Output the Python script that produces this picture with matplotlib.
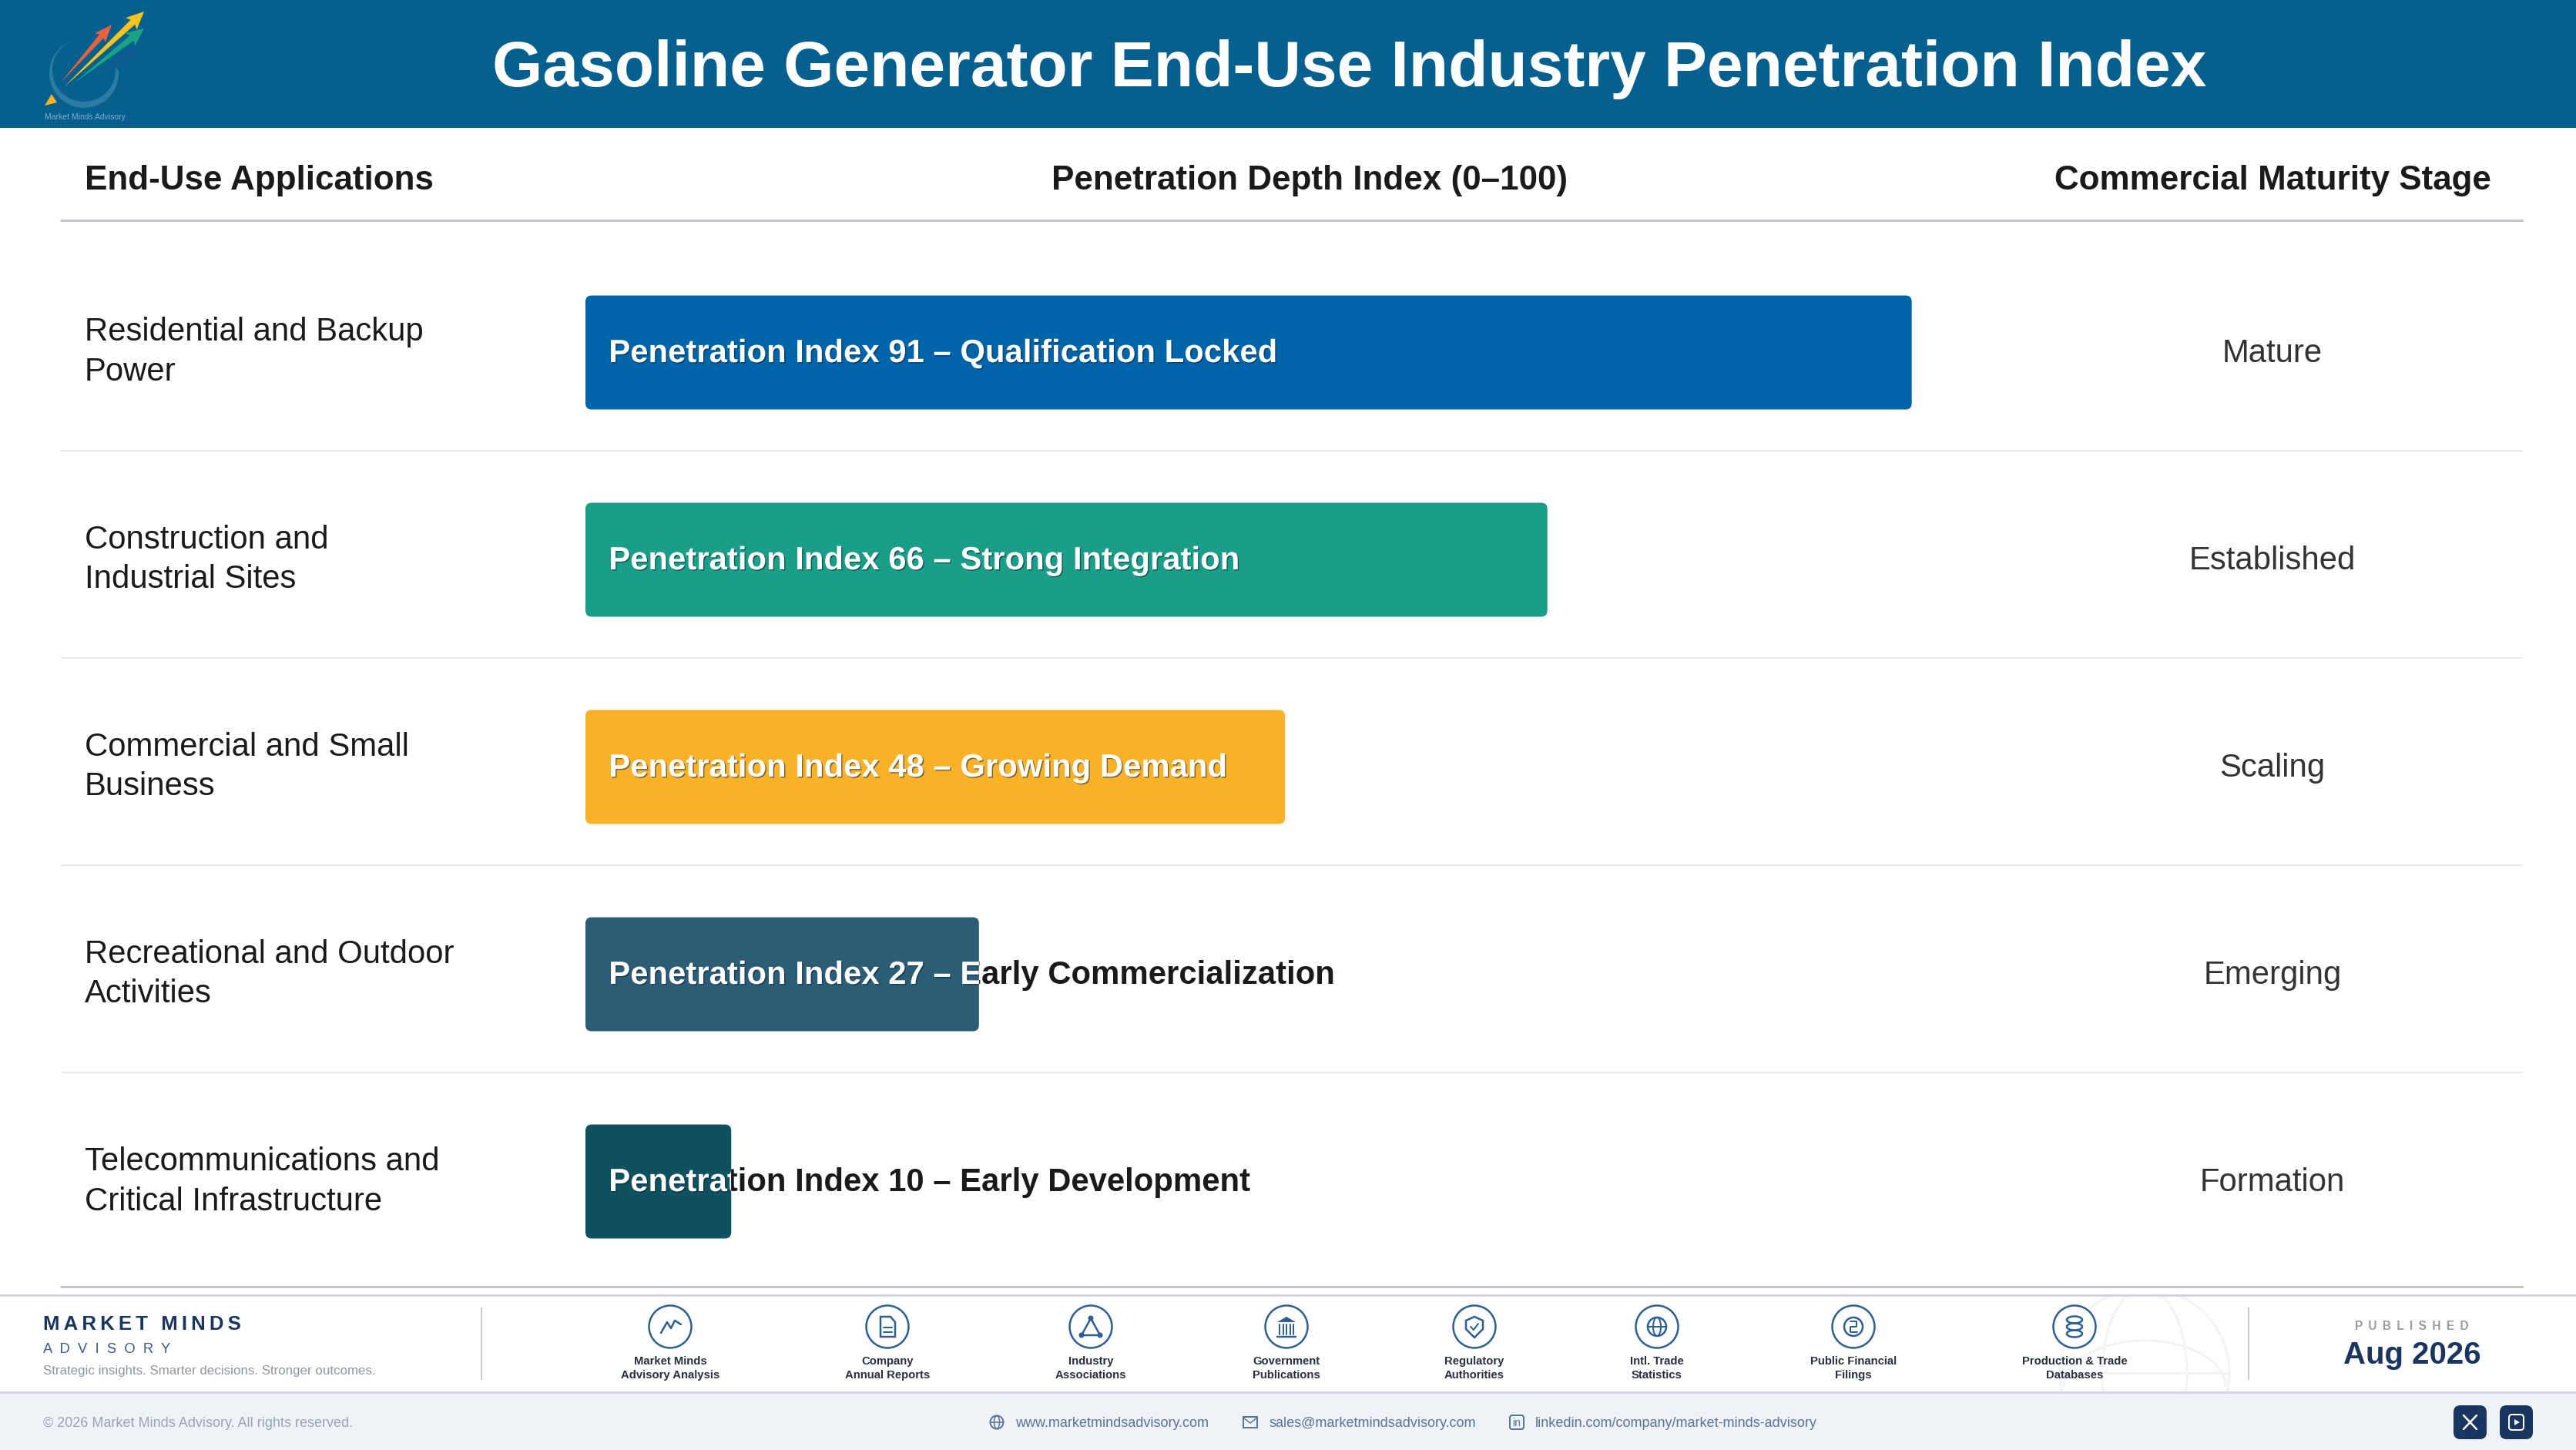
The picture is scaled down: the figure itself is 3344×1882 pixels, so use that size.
import numpy as np
import matplotlib
matplotlib.use("Agg")
import matplotlib.pyplot as plt
import matplotlib.patheffects as pe
from matplotlib.patches import Circle, Ellipse, Arc, Polygon, Rectangle, FancyBboxPatch
from matplotlib.transforms import Bbox, TransformedBbox

plt.rcParams['font.family'] = ['Liberation Sans', 'DejaVu Sans']

# chart values
title = "Gasoline Generator End-Use Industry Penetration Index"
col_heads = ["End-Use Applications", "Penetration Depth Index (0\u2013100)", "Commercial Maturity Stage"]
applications = [
    "Residential and Backup\nPower",
    "Construction and\nIndustrial Sites",
    "Commercial and Small\nBusiness",
    "Recreational and Outdoor\nActivities",
    "Telecommunications and\nCritical Infrastructure",
]
index_values = [91, 66, 48, 27, 10]
index_notes = ["Qualification Locked", "Strong Integration", "Growing Demand",
               "Early Commercialization", "Early Development"]
stages = ["Mature", "Established", "Scaling", "Emerging", "Formation"]
bar_colors = ["#0064A9", "#1B9E87", "#F9B128", "#2C5D75", "#10515F"]

source_names = ["Market Minds\nAdvisory Analysis", "Company\nAnnual Reports", "Industry\nAssociations",
                "Government\nPublications", "Regulatory\nAuthorities", "Intl. Trade\nStatistics",
                "Public Financial\nFilings", "Production & Trade\nDatabases"]
source_x = [870, 1152, 1416, 1670, 1914, 2151, 2406, 2693]

NAVY = "#1A3560"
ICON = "#2D5F94"
THIN = "\u2009"

fig = plt.figure(figsize=(33.44, 18.82), dpi=100, facecolor="white")

# whole page axes in pixels, for the furniture
page = fig.add_axes([0, 0, 1, 1])
page.set_xlim(0, 3344)
page.set_ylim(1882, 0)
page.axis("off")


def px(w):
    return w * 0.72


def line(xs, ys, color=ICON, w=2.5, z=5, **kw):
    page.plot(xs, ys, color=color, lw=px(w), zorder=z, solid_capstyle="round", **kw)


def arrow(x0, y0, x1, y1, color, wide=7, head=20, alpha=1.0):
    # thin tail growing to a barbed head
    d = np.array([x1 - x0, y1 - y0], dtype=float)
    n = np.hypot(*d)
    d = d / n
    p = np.array([-d[1], d[0]])
    a = np.array([x0, y0])
    pts = [a,
           a + d * (n - head) + p * wide * 0.6,
           a + d * (n - head - 3) + p * wide * 1.5,
           a + d * n,
           a + d * (n - head - 3) - p * wide * 1.5,
           a + d * (n - head) - p * wide * 0.6]
    page.add_patch(Polygon(pts, closed=True, fc=color, ec="none", alpha=alpha, zorder=4))


# header band and logo
page.add_patch(Rectangle((0, 0), 3344, 166, fc="#05608F", ec="none", zorder=1))
# ring is thin at the top, heavy at the bottom
ang = np.radians(np.linspace(-5, 265, 80))
outer = np.c_[109 + 45 * np.cos(ang), 95 + 45 * np.sin(ang)]
inner = np.c_[109 + 41 * np.cos(ang), 91 + 41 * np.sin(ang)][::-1]
page.add_patch(Polygon(np.r_[outer, inner], closed=True, fc="#2B7BA2", ec="none", zorder=3))
arrow(112, 103, 181, 65, "#125C92", wide=6)
arrow(79, 107, 145, 32, "#E8623F", wide=6)
arrow(96, 108, 187, 37, "#18A383", wide=7)
arrow(83, 113, 187, 15, "#F6C51F", wide=7)
page.add_patch(Polygon([(58, 137), (67, 122), (74, 133)], closed=True, fc="#F9B129", ec="none", zorder=4))
page.text(110, 155, "Market Minds Advisory", color="#86AEC6", fontsize=7.5, ha="center", va="baseline", zorder=4)
page.text(1752, 112, title, color="white", fontsize=60.4, fontweight="bold", ha="center", va="baseline", zorder=4)

# column heads
page.text(110, 246, col_heads[0], color="#1A1A1A", fontsize=31.7, fontweight="bold", va="baseline")
page.text(1700, 246, col_heads[1], color="#1A1A1A", fontsize=31.7, fontweight="bold", ha="center", va="baseline")
page.text(2950, 246, col_heads[2], color="#1A1A1A", fontsize=31.7, fontweight="bold", ha="center", va="baseline")
page.plot([80, 3274], [286, 286], color="#C3C4CC", lw=px(3))
page.plot([80, 3274], [1670, 1670], color="#C3C4CC", lw=px(3))
for y in [585, 854, 1123, 1392]:
    page.plot([80, 3274], [y, y], color="#E9E9E9", lw=px(2))

# bars, 0-100 scale across the track, one unit per row
bars = fig.add_axes([760 / 3344, 1 - 1668 / 1882, 1892 / 3344, 1345 / 1882])
bars.set_xlim(0, 100)
bars.set_ylim(4.5, -0.5)
bars.axis("off")
bars.patch.set_alpha(0)

shadow = [pe.SimplePatchShadow(offset=(1, -1), shadow_rgbFace="#06203A", alpha=0.55), pe.Normal()]

for i, val in enumerate(index_values):
    label = f"Penetration Index {val} \u2013 {index_notes[i]}"
    patch = FancyBboxPatch((0, i - 0.275), val, 0.55, boxstyle="round,pad=0,rounding_size=0.42",
                           mutation_aspect=0.0708, fc=bar_colors[i], ec="none", zorder=3)
    bars.add_patch(patch)
    # label runs past the short bars: dark under the bar, white cut off at the bar end
    if val < 40:
        bars.text(1.6, i - 0.011, label, color="#1A1A1A", fontsize=30.15, fontweight="bold", va="center_baseline", zorder=2)
    white = bars.text(1.6, i - 0.011, label, color="white", fontsize=30.15, fontweight="bold", va="center_baseline", zorder=4,
                      path_effects=shadow)
    white.set_clip_box(TransformedBbox(Bbox([[0, i - 0.275], [val, i + 0.275]]), bars.transData))
    white.set_clip_on(True)

    page.text(110, 457 + i * 269.25, applications[i], color="#1A1A1A", fontsize=30.2, va="center", linespacing=1.36)
    page.text(2950, 454 + i * 269.25, stages[i], color="#333333", fontsize=30.2, ha="center", va="center_baseline")

# footer
page.add_patch(Rectangle((0, 1807), 3344, 75, fc="#EFF3F8", ec="none", zorder=1))
page.plot([0, 3344], [1681, 1681], color="#D3D6E2", lw=px(3), zorder=2)
page.plot([0, 3344], [1807, 1807], color="#D3D6E2", lw=px(3), zorder=2)
page.plot([625, 625], [1698, 1790], color="#C9CDD3", lw=px(2))
page.plot([2919, 2919], [1698, 1790], color="#C9CDD3", lw=px(2))

# faint globe behind the last source
band = Rectangle((2600, 1681), 400, 126, transform=page.transData)
globe = [Circle((2784, 1782), 110, fc="none", ec="#F2F3F6", lw=px(3)),
         Ellipse((2784, 1782), 110, 220, fc="none", ec="#F2F3F6", lw=px(3)),
         Arc((2784, 1800), 210, 120, theta1=180, theta2=360, ec="#F2F3F6", lw=px(3))]
for g in globe:
    page.add_patch(g)
    g.set_clip_path(band)
page.plot([2674, 2893], [1782, 1782], color="#F2F3F6", lw=px(3))

page.text(56, 1726, f"{THIN}".join("MARKET MINDS"), color=NAVY, fontsize=18.5, fontweight="bold", va="baseline")
page.text(56, 1756, "  ".join("ADVISORY"), color="#3A5A8A", fontsize=13.2, va="baseline")
page.text(56, 1784, "Strategic insights. Smarter decisions. Stronger outcomes.", color="#9096A0", fontsize=12.2, va="baseline")
page.text(3131, 1726, (" " + THIN).join("PUBLISHED"), color="#9A9CA3", fontsize=11.2, fontweight="bold", ha="center", va="baseline")
page.text(3131, 1770, "Aug 2026", color=NAVY, fontsize=28.9, fontweight="bold", ha="center", va="baseline")


def source_icon(i, x, y):
    if i == 0:  # trend
        line([x - 12, x - 4, x + 1, x + 6, x + 14], [y + 8, y - 6, y + 2, y - 8, y - 3])
    elif i == 1:  # document
        page.add_patch(Polygon([(x - 9, y - 13), (x + 4, y - 13), (x + 10, y - 6), (x + 10, y + 13), (x - 9, y + 13)],
                               closed=True, fc="none", ec=ICON, lw=px(2.5), zorder=5))
        line([x - 5, x + 6], [y + 1, y + 1], w=2)
        line([x - 5, x + 6], [y + 7, y + 7], w=2)
    elif i == 2:  # triangle of nodes
        page.add_patch(Polygon([(x, y - 11), (x - 12, y + 11), (x + 12, y + 11)], closed=True, fc="none", ec=ICON, lw=px(2.5), zorder=5))
        for nx, ny in [(x, y - 11), (x - 12, y + 11), (x + 12, y + 11)]:
            page.add_patch(Circle((nx, ny), 3.5, fc=ICON, ec="none", zorder=6))
    elif i == 3:  # building
        page.add_patch(Polygon([(x - 12, y - 6), (x, y - 13), (x + 12, y - 6)], closed=True, fc=ICON, ec="none", zorder=5))
        for dx in [-9, -4.5, 0, 4.5, 9]:
            line([x + dx, x + dx], [y - 3, y + 10], w=2)
        line([x - 12, x + 12], [y + 13, y + 13], w=2.5)
    elif i == 4:  # shield
        page.add_patch(Polygon([(x, y - 13), (x + 11, y - 8), (x + 11, y + 3), (x, y + 14), (x - 11, y + 3), (x - 11, y - 8)],
                               closed=True, fc="none", ec=ICON, lw=px(2.5), zorder=5))
        line([x - 5, x - 1, x + 5], [y, y + 4, y - 4], w=2)
    elif i == 5:  # globe
        page.add_patch(Circle((x, y), 12, fc="none", ec=ICON, lw=px(2.5), zorder=5))
        page.add_patch(Ellipse((x, y), 10, 24, fc="none", ec=ICON, lw=px(2), zorder=5))
        line([x - 12, x + 12], [y, y], w=2)
    elif i == 6:  # coin
        page.add_patch(Circle((x, y), 12, fc="none", ec=ICON, lw=px(2.5), zorder=5))
        line([x - 4, x + 4, x + 4, x - 4, x - 4, x + 5], [y - 7, y - 7, y, y, y + 7, y + 7], w=2)
    else:  # database
        for dy in [-9, 0, 9]:
            page.add_patch(Ellipse((x, y + dy), 20, 9, fc="none", ec=ICON, lw=px(2.5), zorder=5))


for i, (name, x) in enumerate(zip(source_names, source_x)):
    page.add_patch(Circle((x, 1722), 27.5, fc="white", ec=ICON, lw=px(2.5), zorder=4))
    source_icon(i, x, 1722)
    first, second = name.split("\n")
    page.text(x, 1771, first, color="#2A2F3E", fontsize=10.7, fontweight="bold", ha="center", va="baseline")
    page.text(x, 1789, second, color="#2A2F3E", fontsize=10.7, fontweight="bold", ha="center", va="baseline")

# bottom strip
page.text(56, 1852, "\u00a9 2026 Market Minds Advisory. All rights reserved.", color="#9AA5B1", fontsize=13, va="baseline", zorder=3)
LINK = "#5A7396"
page.text(1318, 1852, "www.marketmindsadvisory.com", color=LINK, fontsize=13, va="baseline", zorder=3)
page.text(1647, 1852, "sales@marketmindsadvisory.com", color=LINK, fontsize=13, va="baseline", zorder=3)
page.text(1993, 1852, "linkedin.com/company/market-minds-advisory", color=LINK, fontsize=13, va="baseline", zorder=3)

page.add_patch(Circle((1294, 1846), 8.5, fc="none", ec=LINK, lw=px(2), zorder=3))
page.add_patch(Ellipse((1294, 1846), 7, 17, fc="none", ec=LINK, lw=px(1.5), zorder=3))
line([1286, 1302], [1846, 1846], color=LINK, w=1.5, z=3)
page.add_patch(Rectangle((1614, 1839), 18, 14, fc="none", ec=LINK, lw=px(2), zorder=3))
line([1614, 1623, 1632], [1840, 1847, 1840], color=LINK, w=1.5, z=3)
page.add_patch(FancyBboxPatch((1960, 1837), 18, 18, boxstyle="round,pad=0,rounding_size=3", fc="none", ec=LINK, lw=px(2), zorder=3))
page.text(1969, 1851, "in", color=LINK, fontsize=10, ha="center", va="baseline", zorder=3)

for x0 in [3185, 3245]:
    page.add_patch(FancyBboxPatch((x0, 1824), 43, 44, boxstyle="round,pad=0,rounding_size=9", fc=NAVY, ec="none", zorder=3))
line([3198, 3215], [1837, 1855], color="white", w=2.5, z=4)
line([3215, 3198], [1837, 1855], color="white", w=2.5, z=4)
page.add_patch(FancyBboxPatch((3257, 1836), 19, 20, boxstyle="round,pad=0,rounding_size=4", fc="none", ec="white", lw=px(2), zorder=4))
page.add_patch(Polygon([(3264, 1842), (3264, 1850), (3271, 1846)], closed=True, fc="white", ec="none", zorder=5))

fig.savefig("out.png", dpi=100)
